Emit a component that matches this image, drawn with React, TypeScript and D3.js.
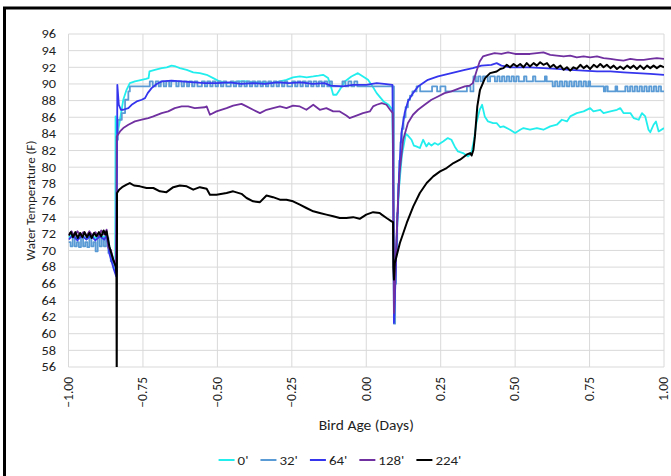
import { useMemo } from "react";
import * as d3 from "d3";

const WIDTH = 671;
const HEIGHT = 476;
const PLOT = { left: 68.5, top: 34, right: 664, bottom: 367 };
const FONT = "Carlito, Calibri, Lato, sans-serif";
const TEXT_COLOR = "#1f1f1f";
const GRID_COLOR = "#d9d9d9";

const DAY_TICKS = [-1, -0.75, -0.5, -0.25, 0, 0.25, 0.5, 0.75, 1];
const TEMP_TICKS = [56, 58, 60, 62, 64, 66, 68, 70, 72, 74, 76, 78, 80, 82, 84, 86, 88, 90, 92, 94, 96];

const SERIES_NAMES = ["0'", "32'", "64'", "128'", "224'"];
const SERIES_COLORS = ["#22eeee", "#5b9bd5", "#3535ee", "#7030a0", "#000000"];

// [bird age (days), water temperature (F)]
const depth0 = [
  [-1.0, 71.6], [-0.985, 71.9], [-0.97, 71.4], [-0.955, 71.8], [-0.94, 71.4], [-0.925, 71.9],
  [-0.91, 71.5], [-0.895, 71.8], [-0.88, 71.6], [-0.87, 71.8], [-0.86, 70.0], [-0.848, 68.3],
  [-0.843, 67.8], [-0.842, 86.1], [-0.836, 84.0], [-0.833, 84.5], [-0.827, 85.7], [-0.816, 88.1],
  [-0.805, 89.3], [-0.794, 90.1], [-0.777, 90.3], [-0.754, 90.5], [-0.74, 90.6], [-0.731, 90.7],
  [-0.728, 91.5], [-0.71, 91.7], [-0.687, 91.9], [-0.67, 92.0], [-0.654, 92.2], [-0.64, 92.1],
  [-0.626, 91.9], [-0.603, 91.7], [-0.581, 91.4], [-0.559, 91.3], [-0.536, 91.1], [-0.514, 90.7],
  [-0.492, 90.3], [-0.469, 90.1], [-0.447, 90.2], [-0.425, 90.3], [-0.402, 90.3], [-0.38, 90.2],
  [-0.357, 90.2], [-0.335, 90.1], [-0.313, 90.1], [-0.29, 90.3], [-0.268, 90.5], [-0.246, 90.8],
  [-0.223, 90.9], [-0.2, 90.8], [-0.178, 90.9], [-0.16, 91.0], [-0.145, 91.1], [-0.128, 90.7],
  [-0.117, 89.5], [-0.111, 88.7], [-0.1, 88.7], [-0.089, 89.3], [-0.072, 90.3], [-0.05, 90.9],
  [-0.028, 91.3], [-0.011, 90.9], [0.006, 90.5], [0.023, 89.6], [0.035, 88.9], [0.058, 87.9],
  [0.075, 87.5], [0.088, 86.9], [0.091, 75.0], [0.093, 62.0], [0.1, 70.0], [0.11, 77.5],
  [0.12, 81.5], [0.133, 84.0], [0.14, 83.8], [0.152, 83.3], [0.16, 82.6], [0.168, 82.5],
  [0.18, 82.3], [0.191, 83.3], [0.202, 82.5], [0.21, 82.9], [0.219, 82.6], [0.23, 82.9],
  [0.241, 82.7], [0.258, 83.1], [0.274, 83.5], [0.286, 83.3], [0.297, 82.5], [0.308, 81.9],
  [0.325, 81.7], [0.342, 81.3], [0.353, 81.7], [0.362, 83.3], [0.37, 85.3], [0.381, 86.9],
  [0.389, 87.5], [0.398, 86.1], [0.409, 85.5], [0.426, 85.3], [0.438, 85.3], [0.45, 84.8],
  [0.461, 84.9], [0.483, 84.5], [0.5, 84.1], [0.517, 84.5], [0.528, 84.7], [0.55, 84.5],
  [0.573, 84.7], [0.595, 84.5], [0.618, 84.9], [0.64, 85.1], [0.657, 85.7], [0.674, 85.5],
  [0.685, 86.1], [0.707, 86.5], [0.73, 86.7], [0.752, 87.1], [0.763, 86.7], [0.786, 86.9],
  [0.797, 86.5], [0.82, 86.7], [0.842, 86.9], [0.853, 87.1], [0.864, 86.5], [0.887, 86.5],
  [0.898, 85.9], [0.915, 85.7], [0.926, 86.5], [0.937, 86.1], [0.948, 84.5], [0.954, 84.2],
  [0.965, 85.1], [0.973, 85.5], [0.982, 84.3], [1.0, 84.7],
];

// the 32' logger reads in coarse steps, so this one is drawn as a step line
const depth32 = [
  [-1.0, 71.0], [-0.993, 70.5], [-0.986, 71.5], [-0.979, 70.5], [-0.972, 71.0], [-0.965, 70.4],
  [-0.958, 71.5], [-0.951, 70.5], [-0.944, 71.0], [-0.937, 70.4], [-0.93, 71.5], [-0.923, 70.5],
  [-0.916, 71.0], [-0.909, 69.9], [-0.902, 71.5], [-0.895, 70.5], [-0.888, 71.5], [-0.881, 70.5],
  [-0.874, 71.5], [-0.866, 69.7], [-0.858, 68.7], [-0.846, 68.1], [-0.84, 67.5], [-0.838, 83.3],
  [-0.834, 85.7], [-0.821, 86.5], [-0.81, 88.1], [-0.799, 89.1], [-0.794, 89.7], [-0.735, 89.7],
  [-0.727, 90.3], [-0.717, 89.7], [-0.707, 90.3], [-0.697, 89.7], [-0.69, 90.3], [-0.68, 89.7],
  [-0.672, 90.3], [-0.662, 89.7], [-0.655, 90.3], [-0.645, 90.3], [-0.638, 89.7], [-0.63, 90.3],
  [-0.62, 89.7], [-0.612, 90.3], [-0.602, 89.7], [-0.595, 90.3], [-0.585, 89.7], [-0.577, 90.3],
  [-0.567, 89.7], [-0.56, 89.7], [-0.552, 90.3], [-0.542, 89.7], [-0.534, 90.3], [-0.524, 89.7],
  [-0.516, 90.3], [-0.506, 89.7], [-0.498, 90.3], [-0.488, 89.7], [-0.48, 90.3], [-0.47, 89.7],
  [-0.462, 89.7], [-0.455, 90.3], [-0.445, 89.7], [-0.437, 90.3], [-0.427, 89.7], [-0.419, 90.3],
  [-0.409, 89.7], [-0.401, 90.3], [-0.391, 89.7], [-0.383, 90.3], [-0.373, 89.7], [-0.365, 90.3],
  [-0.355, 89.7], [-0.347, 90.3], [-0.337, 89.7], [-0.329, 90.3], [-0.319, 89.7], [-0.311, 90.3],
  [-0.301, 89.7], [-0.293, 90.3], [-0.283, 89.7], [-0.275, 90.3], [-0.265, 89.7], [-0.257, 89.7],
  [-0.249, 90.3], [-0.239, 89.7], [-0.231, 90.3], [-0.221, 89.7], [-0.213, 90.3], [-0.203, 89.7],
  [-0.195, 90.3], [-0.185, 89.7], [-0.177, 90.3], [-0.167, 89.7], [-0.159, 90.3], [-0.149, 89.7],
  [-0.141, 90.3], [-0.131, 89.7], [-0.123, 90.3], [-0.115, 89.7], [-0.09, 89.7], [-0.08, 90.3],
  [-0.07, 89.7], [-0.06, 90.3], [-0.05, 89.7], [-0.04, 90.3], [-0.03, 89.7], [0.0, 89.7],
  [0.05, 89.7], [0.09, 89.7], [0.093, 61.2], [0.097, 66.0], [0.1, 70.0], [0.104, 74.5],
  [0.107, 78.0], [0.111, 80.8], [0.115, 83.0], [0.12, 84.6], [0.125, 86.0], [0.132, 87.2],
  [0.14, 88.1], [0.147, 88.6], [0.155, 89.1], [0.168, 89.1], [0.169, 89.7], [0.18, 89.7],
  [0.181, 89.1], [0.22, 89.1], [0.221, 89.7], [0.237, 89.7], [0.238, 89.1], [0.248, 89.1],
  [0.249, 89.7], [0.265, 89.7], [0.266, 89.1], [0.337, 89.1], [0.338, 89.7], [0.349, 89.7],
  [0.35, 89.1], [0.359, 89.1], [0.36, 90.9], [0.368, 90.3], [0.376, 90.9], [0.384, 90.3],
  [0.392, 90.9], [0.4, 90.9], [0.408, 90.3], [0.416, 90.9], [0.424, 90.9], [0.432, 90.3],
  [0.44, 90.9], [0.448, 90.3], [0.456, 90.9], [0.464, 90.3], [0.472, 90.9], [0.48, 90.3],
  [0.488, 90.9], [0.496, 90.3], [0.504, 90.9], [0.512, 90.3], [0.52, 90.3], [0.53, 90.9],
  [0.538, 90.3], [0.55, 90.3], [0.56, 90.9], [0.568, 90.3], [0.59, 90.3], [0.6, 90.9],
  [0.606, 90.3], [0.618, 90.3], [0.626, 89.7], [0.634, 90.3], [0.642, 89.7], [0.65, 90.3],
  [0.658, 89.7], [0.666, 90.3], [0.674, 89.7], [0.682, 90.3], [0.69, 89.7], [0.698, 90.3],
  [0.706, 89.7], [0.714, 90.3], [0.722, 89.7], [0.73, 90.3], [0.738, 89.7], [0.746, 90.3],
  [0.752, 89.7], [0.797, 89.7], [0.798, 89.1], [0.803, 89.1], [0.804, 89.7], [0.81, 89.7],
  [0.811, 89.1], [0.836, 89.1], [0.837, 89.7], [0.842, 89.7], [0.843, 89.1], [0.864, 89.1],
  [0.87, 89.7], [0.878, 89.1], [0.886, 89.7], [0.894, 89.1], [0.902, 89.7], [0.91, 89.1],
  [0.918, 89.7], [0.926, 89.1], [0.934, 89.7], [0.942, 89.1], [0.95, 89.7], [0.958, 89.1],
  [0.966, 89.7], [0.974, 89.1], [0.982, 89.7], [0.99, 89.1], [1.0, 89.1],
];

const depth64 = [
  [-1.0, 71.3], [-0.985, 71.8], [-0.97, 71.2], [-0.955, 71.8], [-0.94, 71.3], [-0.925, 71.8],
  [-0.91, 71.2], [-0.895, 71.7], [-0.88, 71.3], [-0.872, 71.8], [-0.862, 69.5], [-0.85, 68.0],
  [-0.84, 66.9], [-0.837, 80.0], [-0.836, 89.9], [-0.831, 87.5], [-0.824, 86.9], [-0.816, 86.9],
  [-0.799, 87.1], [-0.788, 87.5], [-0.771, 87.9], [-0.754, 88.1], [-0.743, 88.3], [-0.734, 88.9],
  [-0.721, 89.5], [-0.704, 90.0], [-0.687, 90.3], [-0.654, 90.4], [-0.62, 90.3], [-0.576, 90.2],
  [-0.542, 90.1], [-0.5, 90.1], [-0.46, 90.2], [-0.42, 90.0], [-0.38, 90.1], [-0.34, 90.0],
  [-0.3, 90.2], [-0.26, 90.1], [-0.22, 90.2], [-0.18, 90.0], [-0.14, 90.1], [-0.12, 89.8],
  [-0.08, 89.7], [-0.044, 89.9], [0.0, 89.9], [0.035, 90.1], [0.06, 90.0], [0.088, 89.9],
  [0.091, 75.0], [0.093, 61.3], [0.095, 63.0], [0.103, 72.0], [0.11, 79.0], [0.118, 84.1],
  [0.129, 86.5], [0.14, 87.9], [0.157, 88.9], [0.174, 89.7], [0.207, 90.5], [0.241, 90.9],
  [0.286, 91.3], [0.331, 91.7], [0.358, 91.9], [0.387, 92.2], [0.42, 92.3], [0.438, 92.5],
  [0.454, 92.2], [0.483, 92.0], [0.506, 92.0], [0.55, 92.0], [0.595, 91.9], [0.64, 91.8],
  [0.685, 91.7], [0.73, 91.6], [0.775, 91.5], [0.82, 91.5], [0.864, 91.4], [0.909, 91.3],
  [0.954, 91.2], [1.0, 91.1],
];

const depth128 = [
  [-1.0, 71.8], [-0.99, 72.3], [-0.98, 71.7], [-0.97, 72.3], [-0.96, 71.8], [-0.95, 72.2],
  [-0.94, 71.7], [-0.93, 72.3], [-0.92, 71.8], [-0.91, 72.2], [-0.9, 71.7], [-0.89, 72.4],
  [-0.88, 71.9], [-0.872, 72.5], [-0.866, 70.3], [-0.858, 70.1], [-0.85, 69.0], [-0.841, 68.0],
  [-0.839, 76.0], [-0.838, 83.7], [-0.827, 84.3], [-0.816, 84.7], [-0.799, 85.1], [-0.777, 85.5],
  [-0.754, 85.7], [-0.732, 85.9], [-0.715, 86.1], [-0.687, 86.5], [-0.665, 86.7], [-0.643, 87.1],
  [-0.62, 87.3], [-0.598, 87.3], [-0.576, 87.1], [-0.542, 87.2], [-0.536, 87.3], [-0.525, 86.3],
  [-0.503, 86.7], [-0.469, 87.1], [-0.447, 87.4], [-0.419, 87.6], [-0.402, 87.3], [-0.38, 86.9],
  [-0.357, 86.5], [-0.335, 86.9], [-0.313, 87.1], [-0.29, 87.3], [-0.268, 87.1], [-0.246, 87.4],
  [-0.223, 87.3], [-0.201, 86.9], [-0.178, 87.5], [-0.156, 86.9], [-0.134, 87.1], [-0.111, 86.7],
  [-0.089, 86.7], [-0.067, 86.2], [-0.056, 85.9], [-0.033, 86.2], [-0.011, 86.5], [0.012, 86.7],
  [0.023, 87.3], [0.035, 87.5], [0.052, 87.7], [0.068, 87.5], [0.08, 86.9], [0.089, 86.5],
  [0.091, 75.0], [0.093, 62.5], [0.1, 70.0], [0.106, 75.5], [0.112, 79.3], [0.124, 83.3],
  [0.14, 85.3], [0.157, 86.3], [0.174, 86.9], [0.196, 87.5], [0.219, 88.1], [0.241, 88.5],
  [0.263, 88.9], [0.286, 89.1], [0.308, 89.4], [0.331, 89.7], [0.347, 89.8], [0.358, 90.1],
  [0.37, 91.5], [0.381, 92.7], [0.392, 93.3], [0.409, 93.5], [0.431, 93.7], [0.454, 93.6],
  [0.476, 93.8], [0.5, 93.6], [0.528, 93.6], [0.55, 93.6], [0.573, 93.7], [0.595, 93.8],
  [0.618, 93.5], [0.64, 93.4], [0.663, 93.3], [0.685, 93.4], [0.707, 93.2], [0.73, 93.3],
  [0.752, 93.2], [0.775, 93.3], [0.797, 93.1], [0.82, 93.0], [0.842, 92.9], [0.864, 92.8],
  [0.887, 93.0], [0.909, 92.9], [0.932, 92.9], [0.954, 93.0], [0.976, 93.1], [1.0, 93.0],
];

const depth224 = [
  [-1.0, 71.8], [-0.992, 72.2], [-0.985, 71.6], [-0.977, 72.2], [-0.969, 71.5], [-0.961, 72.1],
  [-0.953, 71.6], [-0.946, 72.2], [-0.938, 71.6], [-0.93, 72.1], [-0.922, 71.5], [-0.914, 72.1],
  [-0.906, 71.7], [-0.898, 72.2], [-0.89, 71.7], [-0.882, 72.4], [-0.876, 71.9], [-0.872, 72.3],
  [-0.863, 70.5], [-0.85, 68.9], [-0.841, 68.1], [-0.839, 67.0], [-0.838, 52.0], [-0.837, 76.9],
  [-0.83, 77.3], [-0.82, 77.6], [-0.805, 77.9], [-0.794, 78.1], [-0.78, 77.8], [-0.76, 77.7],
  [-0.738, 77.5], [-0.715, 77.5], [-0.693, 77.1], [-0.671, 77.0], [-0.648, 77.6], [-0.626, 77.8],
  [-0.603, 77.7], [-0.581, 77.3], [-0.559, 77.6], [-0.536, 77.4], [-0.525, 76.7], [-0.503, 76.7],
  [-0.469, 76.9], [-0.447, 77.1], [-0.419, 76.8], [-0.402, 76.3], [-0.38, 75.9], [-0.357, 75.8],
  [-0.335, 76.6], [-0.313, 76.4], [-0.29, 76.1], [-0.268, 76.1], [-0.246, 75.9], [-0.223, 75.5],
  [-0.201, 75.1], [-0.178, 74.7], [-0.156, 74.5], [-0.134, 74.3], [-0.111, 74.1], [-0.089, 73.9],
  [-0.067, 73.9], [-0.044, 74.0], [-0.022, 73.8], [0.0, 74.3], [0.023, 74.6], [0.045, 74.5],
  [0.052, 74.3], [0.068, 73.9], [0.085, 73.5], [0.09, 73.4], [0.091, 68.0], [0.093, 66.5],
  [0.096, 68.5], [0.113, 70.9], [0.136, 73.3], [0.158, 75.3], [0.18, 76.9], [0.203, 78.1],
  [0.225, 78.9], [0.248, 79.5], [0.27, 79.9], [0.293, 80.5], [0.315, 80.9], [0.337, 81.5],
  [0.349, 81.7], [0.354, 81.4], [0.36, 82.1], [0.365, 83.7], [0.373, 87.3], [0.382, 89.3],
  [0.399, 90.7], [0.416, 91.3], [0.438, 91.5], [0.45, 91.8], [0.461, 91.9], [0.472, 92.3],
  [0.483, 92.0], [0.495, 92.4], [0.506, 92.1], [0.517, 92.4], [0.528, 92.0], [0.539, 92.5],
  [0.55, 92.1], [0.562, 92.5], [0.573, 92.2], [0.584, 92.6], [0.595, 92.3], [0.607, 92.5],
  [0.618, 92.0], [0.629, 92.3], [0.64, 91.9], [0.652, 92.2], [0.663, 91.7], [0.674, 92.0],
  [0.685, 91.6], [0.696, 92.0], [0.707, 91.8], [0.719, 92.3], [0.73, 91.9], [0.741, 92.2],
  [0.752, 91.8], [0.764, 92.3], [0.775, 92.0], [0.786, 92.4], [0.797, 92.0], [0.808, 92.3],
  [0.82, 91.9], [0.831, 92.2], [0.842, 91.8], [0.853, 92.1], [0.864, 91.8], [0.876, 92.2],
  [0.887, 91.9], [0.898, 92.2], [0.909, 91.8], [0.92, 92.2], [0.932, 91.8], [0.943, 92.2],
  [0.954, 91.9], [0.965, 92.2], [0.976, 91.9], [0.988, 92.2], [1.0, 92.0],
];

const SERIES_DATA = [depth0, depth32, depth64, depth128, depth224];

const measure = (text, size) => {
  const ctx = document.createElement("canvas").getContext("2d");
  ctx.font = `${size}px ${FONT}`;
  return ctx.measureText(text).width;
};

// horizontal text in the source is a little wider than the font alone gives
const STRETCH = 1.15;

export default function App() {
  const xScale = useMemo(
    () => d3.scaleLinear().domain([-1, 1]).range([PLOT.left, PLOT.right]),
    []
  );
  const yScale = useMemo(
    () => d3.scaleLinear().domain([56, 96]).range([PLOT.bottom, PLOT.top]),
    []
  );

  const makeLine = (curve) =>
    d3
      .line()
      .x((d) => xScale(d[0]))
      .y((d) => yScale(d[1]))
      .curve(curve);
  const linear = makeLine(d3.curveLinear);
  const stepped = makeLine(d3.curveStepAfter);

  // legend layout, centred under the plot
  const LINE_LEN = 16;
  const LEGEND_FS = 13;
  const legendItems = [];
  let cursor = 0;
  SERIES_NAMES.forEach((name, i) => {
    const tw = measure(name, LEGEND_FS) * STRETCH;
    legendItems.push({ name, color: SERIES_COLORS[i], x: cursor });
    cursor += LINE_LEN + 3 + tw + 12;
  });
  const legendWidth = cursor - 12;
  const legendStart = 340 - legendWidth / 2;

  const xMid = (PLOT.left + PLOT.right) / 2;
  const yMid = (PLOT.top + PLOT.bottom) / 2;

  return (
    <svg
      width={WIDTH}
      height={HEIGHT}
      style={{ position: "absolute", left: 0, top: 0, background: "#fff" }}
      fontFamily={FONT}
    >
      <defs>
        <clipPath id="plot-clip">
          <rect
            x={PLOT.left}
            y={PLOT.top}
            width={PLOT.right - PLOT.left}
            height={PLOT.bottom - PLOT.top}
          />
        </clipPath>
      </defs>

      <rect x={0} y={0} width={WIDTH} height={HEIGHT} fill="#fff" />
      <rect x={4.5} y={8} width={WIDTH + 20} height={HEIGHT + 20} fill="none" stroke="#000" strokeWidth={3} />

      {/* grid */}
      <g>
        {TEMP_TICKS.map((t) => (
          <line
            key={"h" + t}
            x1={PLOT.left}
            x2={PLOT.right}
            y1={yScale(t)}
            y2={yScale(t)}
            stroke={GRID_COLOR}
            strokeWidth={1}
          />
        ))}
        {DAY_TICKS.map((d) => (
          <line
            key={"v" + d}
            x1={xScale(d)}
            x2={xScale(d)}
            y1={PLOT.top}
            y2={PLOT.bottom}
            stroke={GRID_COLOR}
            strokeWidth={1}
          />
        ))}
      </g>

      {/* series */}
      <g clipPath="url(#plot-clip)">
        {SERIES_DATA.map((data, i) => (
          <path
            key={SERIES_NAMES[i]}
            d={(i === 1 ? stepped : linear)(data)}
            fill="none"
            stroke={SERIES_COLORS[i]}
            strokeWidth={i === 4 ? 2 : 1.8}
            strokeLinejoin="round"
          />
        ))}
      </g>

      {/* y tick labels */}
      <g fontSize={12.5} fill={TEXT_COLOR}>
        {TEMP_TICKS.map((t) => (
          <text
            key={t}
            transform={`translate(56,${yScale(t)}) scale(${STRETCH},1)`}
            textAnchor="end"
            dy="0.35em"
          >
            {t}
          </text>
        ))}
      </g>

      {/* x tick labels, rotated */}
      <g fontSize={13.5} fill={TEXT_COLOR}>
        {DAY_TICKS.map((d) => (
          <text
            key={d}
            transform={`translate(${xScale(d)},377) rotate(-90)`}
            textAnchor="end"
            dy="0.32em"
          >
            {d3.format(".2f")(d)}
          </text>
        ))}
      </g>

      <text
        transform={`translate(${xMid},425) scale(${STRETCH},1)`}
        textAnchor="middle"
        dy="0.35em"
        fontSize={13.5}
        fill={TEXT_COLOR}
      >
        Bird Age (Days)
      </text>
      <text
        transform={`translate(30,${yMid}) rotate(-90)`}
        textAnchor="middle"
        dy="0.35em"
        fontSize={13}
        fill={TEXT_COLOR}
      >
        Water Temperature (F)
      </text>

      {/* legend */}
      <g transform={`translate(${legendStart},460)`} fontSize={LEGEND_FS} fill={TEXT_COLOR}>
        {legendItems.map((it) => (
          <g key={it.name} transform={`translate(${it.x},0)`}>
            <line x1={0} x2={LINE_LEN} y1={0} y2={0} stroke={it.color} strokeWidth={2} />
            <text transform={`translate(${LINE_LEN + 3},0) scale(${STRETCH},1)`} dy="0.35em">
              {it.name}
            </text>
          </g>
        ))}
      </g>
    </svg>
  );
}
